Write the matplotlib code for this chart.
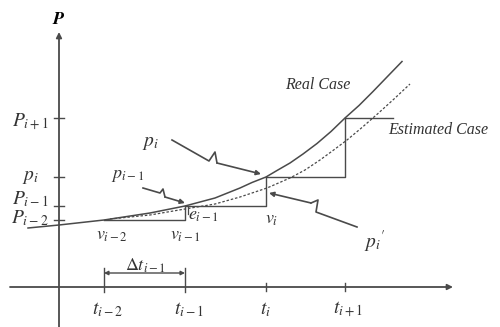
import matplotlib.pyplot as plt

plt.rcParams['mathtext.fontset'] = 'stix'
plt.rcParams['font.family'] = ['Liberation Serif', 'DejaVu Serif']

# sample times and the real values at those times
t_knots = [45, 126, 207, 286]
P_knots = [67, 81, 110, 169]
t_labels = [r'$t_{i-2}$', r'$t_{i-1}$', r'$t_i$', r'$t_{i+1}$']
P_labels = [r'$P_{i-2}$', r'$P_{i-1}$', r'$p_i$', r'$P_{i+1}$']

# real growth curve
real_t = [-31, 0, 45, 91, 126, 156, 181, 193, 207, 218, 231, 244, 258, 272, 286,
          300, 314, 328, 343]
real_P = [59, 62, 67, 74, 81, 89, 99, 104.5, 110, 116.5, 124, 133, 143.5, 155.5, 169,
          181.5, 195.5, 210, 225.5]

# estimated curve
est_t = [51, 91, 126, 156, 181, 208, 231, 246, 261, 274, 288, 303, 319, 335, 351]
est_P = [68, 72, 78, 83, 90, 99, 109, 117, 127, 136.5, 147, 159.5, 173.5, 188, 203]

ink = '#4a4a4a'

fig = plt.figure(figsize=(5.0, 3.27), dpi=100)
ax = fig.add_axes([0, 0, 1, 1])
ax.set_xlim(-59, 441)
ax.set_ylim(-40, 287)
ax.axis('off')

# axes with arrow heads
ax.annotate('', xy=(394, 0), xytext=(-49, 0),
            arrowprops=dict(arrowstyle='-|>', color=ink, lw=1.3,
                            mutation_scale=8, shrinkA=0, shrinkB=0))
ax.annotate('', xy=(0, 255), xytext=(0, -40),
            arrowprops=dict(arrowstyle='-|>', color=ink, lw=1.3,
                            mutation_scale=8, shrinkA=0, shrinkB=0))
ax.text(0, 268, r'$\boldsymbol{P}$', fontsize=13, ha='center', va='center', color='black')

# curves
ax.plot(real_t, real_P, color=ink, lw=1.1)
ax.plot(est_t, est_P, color=ink, lw=0.9, ls=(0, (2, 1.5)))

# step construction between samples
for k in range(len(t_knots) - 1):
    ax.plot([t_knots[k], t_knots[k + 1], t_knots[k + 1]],
            [P_knots[k], P_knots[k], P_knots[k + 1]], color=ink, lw=1.0)
ax.plot([t_knots[-1], t_knots[-1] + 48], [P_knots[-1], P_knots[-1]], color=ink, lw=1.0)

# error marker at t_{i-1}
ax.plot([129, 129], [73, 81], color=ink, lw=0.9)

# ticks on the axes
for t in t_knots[2:]:
    ax.plot([t, t], [-4, 4], color=ink, lw=1.0)
for t in t_knots[:2]:
    ax.plot([t, t], [-5, 19], color=ink, lw=1.0)
for p in P_knots:
    ax.plot([-5, 5], [p, p], color=ink, lw=1.0)

# tick labels
for x, s in zip([49, 130, 207, 289], t_labels):
    ax.text(x, -23, s, fontsize=14, ha='center', va='center', color='#333333')
for y, s in zip([69, 88, 110, 165], P_labels):
    ax.text(-29, y, s, fontsize=14, ha='center', va='center', color='#333333')

# delta t bracket
ax.annotate('', xy=(t_knots[1], 14), xytext=(t_knots[0], 14),
            arrowprops=dict(arrowstyle='<|-|>', color=ink, lw=1.0,
                            mutation_scale=6, shrinkA=0, shrinkB=0))
ax.text(86, 21, r'$\Delta t_{i-1}$', fontsize=13, ha='center', va='center', color='#333333')

# point labels
ax.text(53, 51, r'$v_{i-2}$', fontsize=13, ha='center', va='center', color='#333333')
ax.text(126, 51, r'$v_{i-1}$', fontsize=13, ha='center', va='center', color='#333333')
ax.text(213, 67, r'$v_i$', fontsize=13, ha='center', va='center', color='#333333')
ax.text(144, 72, r'$e_{i-1}$', fontsize=13, ha='center', va='center', color='#333333')
ax.text(69, 112, r'$p_{i-1}$', fontsize=13, ha='center', va='center', color='#333333')
ax.text(91, 144, r'$p_i$', fontsize=14, ha='center', va='center', color='#333333')
ax.text(316, 45, r"$p_i{}^{\prime}$", fontsize=14, ha='center', va='center', color='#333333')
ax.text(259, 202, 'Real Case', fontsize=11.5, style='italic', ha='center', va='center', color='#333333')
ax.text(379, 157, 'Estimated Case', fontsize=11.5, style='italic', ha='center', va='center', color='#333333')


def zigzag(pts):
    xs = [p[0] for p in pts]
    ys = [p[1] for p in pts]
    ax.plot(xs[:-1], ys[:-1], color=ink, lw=1.2)
    ax.annotate('', xy=pts[-1], xytext=pts[-2],
                arrowprops=dict(arrowstyle='-|>', color=ink, lw=1.2,
                                mutation_scale=7, shrinkA=0, shrinkB=0))


zigzag([(113, 147), (150, 126), (156, 135), (158, 124), (202, 113)])
zigzag([(84, 99), (101, 94), (104, 98), (106, 90), (126, 84)])
zigzag([(298, 60), (257, 75), (259, 87), (252, 84), (210, 94)])

fig.savefig('out.png', dpi=100)
